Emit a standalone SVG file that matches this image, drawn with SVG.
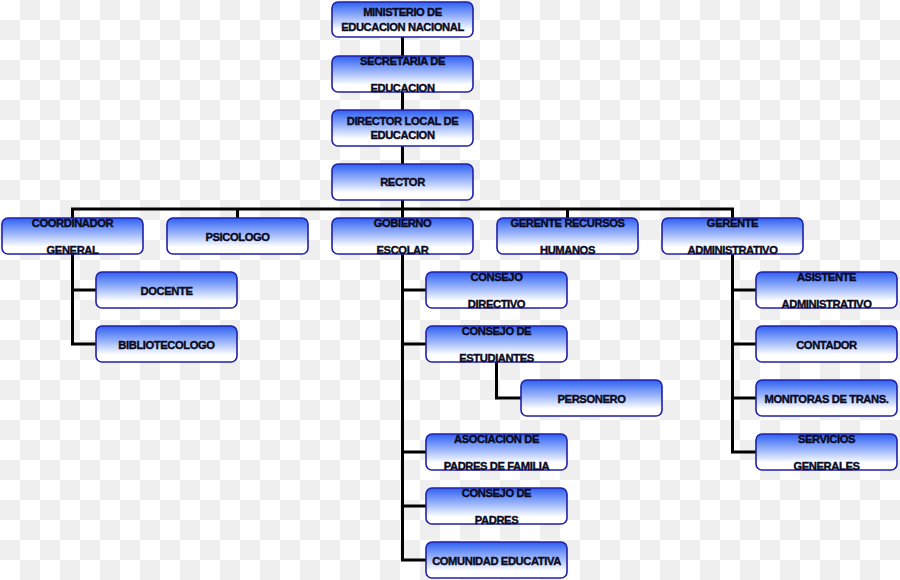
<svg xmlns="http://www.w3.org/2000/svg" width="900" height="580" viewBox="0 0 900 580">
<defs>
<pattern id="checker" width="40" height="40" patternUnits="userSpaceOnUse">
<rect width="40" height="40" fill="#ffffff"/>
<rect x="20" y="0" width="20" height="20" fill="#efefef"/>
<rect x="0" y="20" width="20" height="20" fill="#efefef"/>
</pattern>
<linearGradient id="boxfill" x1="0" y1="0" x2="0" y2="1">
<stop offset="0" stop-color="#2e60f2"/>
<stop offset="0.45" stop-color="#9fb8fa"/>
<stop offset="0.8" stop-color="#ffffff"/>
<stop offset="1" stop-color="#ffffff"/>
</linearGradient>
</defs>
<style>
.box { fill: url(#boxfill); stroke: #2020a8; stroke-width: 1.6; }
.t { font-family: "Liberation Sans", Arial, sans-serif; font-weight: bold; font-size: 11.2px; fill: #0a0a22; stroke: #0a0a22; stroke-width: 0.4; text-anchor: middle; letter-spacing: -0.4px; }
.c { fill: none; stroke: #000000; stroke-width: 3; }
</style>
<rect width="900" height="580" fill="url(#checker)"/>

<g id="connectors">
<path class="c" d="M402.5 37 V218"/>
<path class="c" d="M72.5 218 V209 H732.5 V218"/>
<path class="c" d="M237.5 209 V218"/>
<path class="c" d="M567.5 209 V218"/>
<path class="c" d="M72.5 254 V344 H96 M72.5 290 H96"/>
<path class="c" d="M402.5 254 V560 H426 M402.5 290 H426 M402.5 344 H426 M402.5 452 H426 M402.5 506 H426"/>
<path class="c" d="M496.5 362 V398 H521"/>
<path class="c" d="M732.5 254 V452 H756 M732.5 290 H756 M732.5 344 H756 M732.5 398 H756"/>
</g>

<g id="ministerio"><rect class="box" x="332" y="2" width="141" height="35" rx="6"/><text class="t" x="402.5" y="16">MINISTERIO DE</text><text class="t" x="402.5" y="31">EDUCACION NACIONAL</text></g>
<g id="secretaria"><rect class="box" x="332" y="56" width="141" height="36" rx="6"/><text class="t" x="402.5" y="65">SECRETARIA DE</text><text class="t" x="402.5" y="92">EDUCACION</text></g>
<g id="director"><rect class="box" x="332" y="110" width="141" height="36" rx="6"/><text class="t" x="402.5" y="125">DIRECTOR LOCAL DE</text><text class="t" x="402.5" y="139">EDUCACION</text></g>
<g id="rector"><rect class="box" x="332" y="164" width="141" height="36" rx="6"/><text class="t" x="402.5" y="186">RECTOR</text></g>

<g id="coordinador"><rect class="box" x="2" y="218" width="141" height="36" rx="6"/><text class="t" x="72.5" y="227">COORDINADOR</text><text class="t" x="72.5" y="254">GENERAL</text></g>
<g id="psicologo"><rect class="box" x="167" y="218" width="141" height="36" rx="6"/><text class="t" x="237.5" y="241">PSICOLOGO</text></g>
<g id="gobierno"><rect class="box" x="332" y="218" width="141" height="36" rx="6"/><text class="t" x="402.5" y="227">GOBIERNO</text><text class="t" x="402.5" y="254">ESCOLAR</text></g>
<g id="gerente-rrhh"><rect class="box" x="497" y="218" width="141" height="36" rx="6"/><text class="t" x="567.5" y="227">GERENTE RECURSOS</text><text class="t" x="567.5" y="254">HUMANOS</text></g>
<g id="gerente-admin"><rect class="box" x="662" y="218" width="141" height="36" rx="6"/><text class="t" x="732.5" y="227">GERENTE</text><text class="t" x="732.5" y="254">ADMINISTRATIVO</text></g>

<g id="docente"><rect class="box" x="96" y="272" width="141" height="36" rx="6"/><text class="t" x="166.5" y="295">DOCENTE</text></g>
<g id="bibliotecologo"><rect class="box" x="96" y="326" width="141" height="36" rx="6"/><text class="t" x="166.5" y="349">BIBLIOTECOLOGO</text></g>

<g id="consejo-directivo"><rect class="box" x="426" y="272" width="141" height="36" rx="6"/><text class="t" x="496.5" y="281">CONSEJO</text><text class="t" x="496.5" y="308">DIRECTIVO</text></g>
<g id="consejo-estudiantes"><rect class="box" x="426" y="326" width="141" height="36" rx="6"/><text class="t" x="496.5" y="335">CONSEJO DE</text><text class="t" x="496.5" y="362">ESTUDIANTES</text></g>
<g id="personero"><rect class="box" x="521" y="380" width="141" height="36" rx="6"/><text class="t" x="591.5" y="403">PERSONERO</text></g>
<g id="asociacion"><rect class="box" x="426" y="434" width="141" height="36" rx="6"/><text class="t" x="496.5" y="443">ASOCIACION DE</text><text class="t" x="496.5" y="470">PADRES DE FAMILIA</text></g>
<g id="consejo-padres"><rect class="box" x="426" y="488" width="141" height="36" rx="6"/><text class="t" x="496.5" y="497">CONSEJO DE</text><text class="t" x="496.5" y="524">PADRES</text></g>
<g id="comunidad"><rect class="box" x="426" y="542" width="141" height="36" rx="6"/><text class="t" x="496.5" y="565">COMUNIDAD EDUCATIVA</text></g>

<g id="asistente"><rect class="box" x="756" y="272" width="141" height="36" rx="6"/><text class="t" x="826.5" y="281">ASISTENTE</text><text class="t" x="826.5" y="308">ADMINISTRATIVO</text></g>
<g id="contador"><rect class="box" x="756" y="326" width="141" height="36" rx="6"/><text class="t" x="826.5" y="349">CONTADOR</text></g>
<g id="monitoras"><rect class="box" x="756" y="380" width="141" height="36" rx="6"/><text class="t" x="826.5" y="403">MONITORAS DE TRANS.</text></g>
<g id="servicios"><rect class="box" x="756" y="434" width="141" height="36" rx="6"/><text class="t" x="826.5" y="443">SERVICIOS</text><text class="t" x="826.5" y="470">GENERALES</text></g>
</svg>
